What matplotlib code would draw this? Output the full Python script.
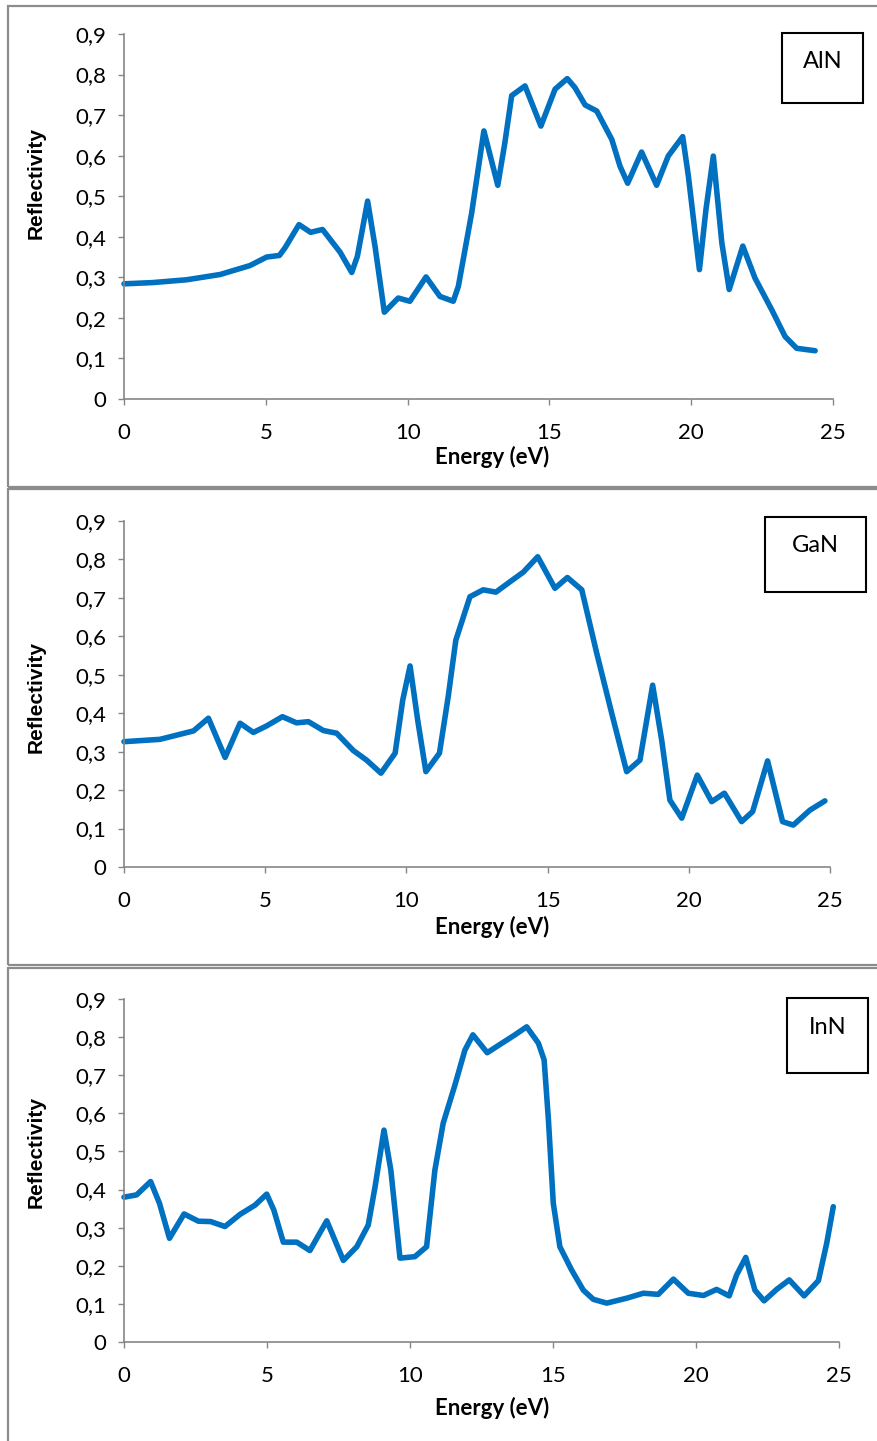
import matplotlib
matplotlib.use('Agg')
import matplotlib.pyplot as plt
from matplotlib.patches import Rectangle

# ---- data ----
aln_energy = [0.0, 1.0, 2.21, 3.39, 4.44, 5.03, 5.48, 5.68, 6.17, 6.58, 7.0, 7.62, 8.03,
              8.23, 8.59, 8.85, 9.18, 9.67, 10.08, 10.65, 11.14, 11.61, 11.79, 12.26,
              12.69, 13.18, 13.43, 13.67, 14.14, 14.70, 15.2, 15.63, 15.9, 16.26, 16.67,
              17.2, 17.49, 17.76, 18.25, 18.78, 19.19, 19.7, 19.9, 20.29, 20.52, 20.78,
              21.08, 21.34, 21.82, 22.25, 22.84, 23.31, 23.72, 24.37]
aln_refl = [0.284, 0.287, 0.294, 0.307, 0.329, 0.350, 0.354, 0.373, 0.430, 0.411, 0.418,
            0.362, 0.312, 0.352, 0.488, 0.377, 0.214, 0.249, 0.241, 0.301, 0.253, 0.241,
            0.278, 0.459, 0.661, 0.527, 0.632, 0.748, 0.772, 0.673, 0.764, 0.790, 0.768,
            0.725, 0.710, 0.640, 0.574, 0.532, 0.609, 0.527, 0.599, 0.647, 0.550, 0.319,
            0.467, 0.599, 0.385, 0.270, 0.377, 0.298, 0.220, 0.154, 0.125, 0.119]

gan_energy = [0.0, 1.27, 2.46, 2.99, 3.58, 4.11, 4.58, 5.05, 5.61, 6.11, 6.53, 7.06, 7.53,
              8.12, 8.59, 9.1, 9.6, 9.87, 10.13, 10.4, 10.69, 11.17, 11.48, 11.75, 12.25,
              12.72, 13.17, 13.67, 14.14, 14.65, 15.26, 15.7, 16.21, 16.74, 17.27, 17.8,
              18.27, 18.72, 19.04, 19.33, 19.75, 20.3, 20.81, 21.26, 21.87, 22.26, 22.79,
              23.32, 23.7, 24.29, 24.82]
gan_refl = [0.326, 0.332, 0.354, 0.387, 0.285, 0.374, 0.350, 0.367, 0.391, 0.375, 0.378,
            0.355, 0.348, 0.303, 0.278, 0.244, 0.296, 0.434, 0.523, 0.382, 0.248, 0.296,
            0.443, 0.590, 0.703, 0.721, 0.715, 0.742, 0.767, 0.807, 0.725, 0.753, 0.721,
            0.556, 0.400, 0.248, 0.278, 0.473, 0.330, 0.174, 0.127, 0.239, 0.170, 0.192,
            0.118, 0.144, 0.276, 0.118, 0.109, 0.148, 0.172]

inn_energy = [0.0, 0.44, 0.93, 1.24, 1.59, 2.1, 2.6, 3.03, 3.53, 4.06, 4.58, 4.99, 5.24,
              5.57, 6.04, 6.5, 7.09, 7.67, 8.14, 8.54, 8.78, 9.09, 9.33, 9.65, 10.17, 10.58,
              10.87, 11.16, 11.57, 11.92, 12.2, 12.7, 13.15, 13.67, 14.08, 14.49, 14.69,
              14.84, 15.01, 15.24, 15.65, 16.06, 16.41, 16.88, 17.58, 18.16, 18.68, 19.21,
              19.73, 20.26, 20.72, 21.16, 21.42, 21.74, 22.06, 22.38, 22.82, 23.26, 23.78,
              24.28, 24.57, 24.8]
inn_refl = [0.380, 0.386, 0.421, 0.364, 0.272, 0.336, 0.317, 0.316, 0.303, 0.335, 0.359,
            0.388, 0.346, 0.262, 0.262, 0.240, 0.318, 0.214, 0.250, 0.307, 0.408, 0.556,
            0.451, 0.220, 0.224, 0.250, 0.451, 0.574, 0.674, 0.766, 0.806, 0.759, 0.781,
            0.806, 0.827, 0.784, 0.740, 0.583, 0.364, 0.250, 0.189, 0.136, 0.112, 0.102,
            0.115, 0.128, 0.125, 0.165, 0.128, 0.122, 0.138, 0.121, 0.176, 0.222, 0.136,
            0.108, 0.138, 0.163, 0.121, 0.161, 0.259, 0.355]

materials = ['AlN', 'GaN', 'InN']
x_ticks = [0, 5, 10, 15, 20, 25]
y_ticks = [0, 0.1, 0.2, 0.3, 0.4, 0.5, 0.6, 0.7, 0.8, 0.9]
y_ticklabels = ['0', '0,1', '0,2', '0,3', '0,4', '0,5', '0,6', '0,7', '0,8', '0,9']

W, H = 877, 1441
narrow = ['Lato', 'Open Sans', 'DejaVu Sans']

fig = plt.figure(figsize=(W / 100, H / 100), dpi=100)

def fx(px):
    return px / W

def fy(py):
    return 1 - py / H

# pixel layout per panel: axes (left, right, top, bottom), frame top/bottom,
# legend box (x0, y0, x1, y1), ylabel centre y, xlabel centre y
panels = [
    dict(ax=(124, 833, 34, 399), frame=(6, 487), box=(782, 33, 863, 103), ylab=183, xlab=457),
    dict(ax=(124, 830, 521, 867), frame=(489, 965), box=(765, 517, 866, 592), ylab=697, xlab=927),
    dict(ax=(124, 839, 999, 1342), frame=(968, 1445), box=(787, 998, 868, 1073), ylab=1152, xlab=1408),
]
series = [(aln_energy, aln_refl), (gan_energy, gan_refl), (inn_energy, inn_refl)]

for p, (xs, ys), name in zip(panels, series, materials):
    l, r, t, b = p['ax']
    ax = fig.add_axes([fx(l), fy(b), fx(r - l), (b - t) / H])
    ax.plot(xs, ys, color='#0070C0', lw=4.0, solid_joinstyle='round', solid_capstyle='round',
            clip_on=False)
    ax.set_xlim(0, 25)
    ax.set_ylim(0, 0.9)
    ax.set_xticks(x_ticks)
    ax.set_yticks(y_ticks)
    ax.set_yticklabels(y_ticklabels)
    for s in ['top', 'right']:
        ax.spines[s].set_visible(False)
    for s in ['left', 'bottom']:
        ax.spines[s].set_color('#868686')
        ax.spines[s].set_linewidth(1.2)
    ax.tick_params(axis='both', colors='#868686', length=4, width=1.0, direction='out')
    ax.tick_params(axis='x', pad=13)
    ax.tick_params(axis='y', pad=9)
    for lab in ax.get_xticklabels() + ax.get_yticklabels():
        lab.set_family(narrow)
        lab.set_fontsize(16)
        lab.set_color('black')

    # axis titles
    fig.text(fx(36), fy(p['ylab']), 'Reflectivity', rotation=90, ha='center', va='center',
             fontsize=15, fontweight='bold', family=['Liberation Sans', 'DejaVu Sans'])
    fig.text(fx(492), fy(p['xlab']), 'Energy (eV)', ha='center', va='center',
             fontsize=16, fontweight='bold', family=narrow)

    # material label box
    x0, y0, x1, y1 = p['box']
    fig.patches.append(Rectangle((fx(x0), fy(y1)), fx(x1 - x0), (y1 - y0) / H,
                                 transform=fig.transFigure, fill=False,
                                 edgecolor='black', lw=1.5))
    fig.text(fx((x0 + x1) / 2), fy(y0 + 29), name, ha='center', va='center',
             fontsize=17, family=narrow)

    # outer frame of each chart
    ft, fb = p['frame']
    fig.patches.append(Rectangle((fx(8), fy(fb)), fx(W + 10 - 8), (fb - ft) / H,
                                 transform=fig.transFigure, fill=False,
                                 edgecolor='#8c8c8c', lw=1.6, clip_on=False))

fig.savefig('out.png', dpi=100)
